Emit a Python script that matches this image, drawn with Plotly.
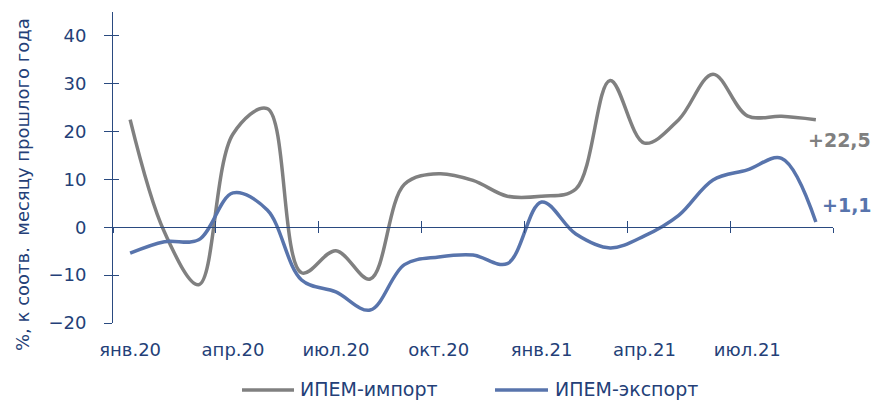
import plotly.graph_objects as go

months = ["янв.20", "фев.20", "мар.20", "апр.20", "май.20", "июн.20", "июл.20",
          "авг.20", "сен.20", "окт.20", "ноя.20", "дек.20", "янв.21", "фев.21",
          "мар.21", "апр.21", "май.21", "июн.21", "июл.21", "авг.21", "сен.21"]
imp = [22.5, -1.0, -12.0, 19.5, 24.8, -9.5, -4.9, -10.8, 9.0, 11.2, 9.8,
       6.5, 6.5, 8.0, 30.7, 17.6, 22.5, 32.0, 23.3, 23.2, 22.5]
exp = [-5.4, -3.0, -2.6, 7.2, 3.6, -11.0, -13.5, -17.3, -7.8, -6.2, -5.8,
       -7.6, 5.3, -1.4, -4.3, -1.8, 2.5, 9.9, 12.0, 14.4, 1.1]
y_ticks = [-20, -10, 0, 10, 20, 30, 40]
label_every = 3
series_names = ["ИПЕМ-импорт", "ИПЕМ-экспорт"]

GRAY = "#808080"
BLUE = "#5874AC"
TXT = "#243F78"
AX = "#2A4A80"
FONT = "DejaVu Sans"

W, H = 873, 400
ML, MR, MT, MB = 113, 40, 12, 77
PW, PH = W - ML - MR, H - MT - MB

def px(x):  # page x -> paper
    return (x - ML) / PW

def py(y):  # page y -> paper
    return (H - MB - y) / PH

xi = list(range(len(months)))
n = len(months)
ymin, ymax = -20, 45

fig = go.Figure()
fig.add_trace(go.Scatter(x=xi, y=imp, mode="lines", name=series_names[0],
                         line=dict(color=GRAY, width=3.5, shape="spline", smoothing=1.0),
                         showlegend=False))
fig.add_trace(go.Scatter(x=xi, y=exp, mode="lines", name=series_names[1],
                         line=dict(color=BLUE, width=3.5, shape="spline", smoothing=1.0),
                         showlegend=False))
# empty helper traces so overlay axes get drawn
fig.add_trace(go.Scatter(x=[], y=[], xaxis="x2", yaxis="y", showlegend=False, hoverinfo="skip"))
fig.add_trace(go.Scatter(x=[], y=[], xaxis="x3", yaxis="y", showlegend=False, hoverinfo="skip"))
fig.add_trace(go.Scatter(x=[], y=[], xaxis="x", yaxis="y2", showlegend=False, hoverinfo="skip"))

bounds = [i - 0.5 for i in range(0, n + 1, label_every)]
label_idx = list(range(0, n, label_every))
zero_pos = (0 - ymin) / (ymax - ymin)

common_x = dict(range=[-0.5, n - 0.5], showgrid=False, zeroline=False, fixedrange=True)

fig.update_layout(
    width=W, height=H,
    margin=dict(l=ML, r=MR, t=MT, b=MB),
    paper_bgcolor="white", plot_bgcolor="white",
    font=dict(family=FONT, size=18, color=TXT),
    showlegend=False,
    xaxis=dict(**common_x, tickmode="array", tickvals=label_idx,
               ticktext=[months[i] for i in label_idx], ticks="", showline=False,
               tickfont=dict(family=FONT, size=18, color=TXT), ticklabelstandoff=14),
    xaxis2=dict(**common_x, overlaying="x", anchor="free", position=zero_pos,
                tickmode="array", tickvals=bounds, showticklabels=False,
                ticks="outside", ticklen=5, tickwidth=1, tickcolor=AX,
                showline=True, linecolor=AX, linewidth=1),
    xaxis3=dict(**common_x, overlaying="x", anchor="free", position=zero_pos,
                tickmode="array", tickvals=bounds, showticklabels=False,
                ticks="inside", ticklen=6, tickwidth=1, tickcolor=AX, showline=False),
    yaxis=dict(range=[ymin, ymax], tickmode="array", tickvals=y_ticks,
               showgrid=False, zeroline=False, showline=True, linecolor=AX, linewidth=1,
               ticks="outside", ticklen=8, tickwidth=1, tickcolor=AX,
               tickfont=dict(family=FONT, size=18, color=TXT), ticklabelstandoff=14,
               fixedrange=True),
    yaxis2=dict(range=[ymin, ymax], overlaying="y", anchor="x", side="left",
                tickmode="array", tickvals=y_ticks, showticklabels=False,
                showgrid=False, zeroline=False, showline=False,
                ticks="inside", ticklen=6, tickwidth=1, tickcolor=AX, fixedrange=True),
)

def fmt(v):
    return ("+" if v >= 0 else "") + f"{v:.1f}".replace(".", ",")

annotations = [
    dict(text="%, к соотв.  месяцу прошлого года", textangle=-90, xref="paper", yref="paper",
         x=px(22), y=py(185), xanchor="center", yanchor="middle", showarrow=False,
         font=dict(family=FONT, size=18, color=TXT)),
    dict(text="<b>" + fmt(imp[-1]) + "</b>", xref="paper", yref="paper",
         x=px(806), y=py(140), xanchor="left", yanchor="middle", showarrow=False,
         font=dict(family=FONT, size=19, color=GRAY)),
    dict(text="<b>" + fmt(exp[-1]) + "</b>", xref="paper", yref="paper",
         x=px(820), y=py(205), xanchor="left", yanchor="middle", showarrow=False,
         font=dict(family=FONT, size=19, color=BLUE)),
    dict(text=series_names[0], xref="paper", yref="paper", x=px(298), y=py(389),
         xanchor="left", yanchor="middle", showarrow=False,
         font=dict(family=FONT, size=19, color=TXT)),
    dict(text=series_names[1], xref="paper", yref="paper", x=px(553), y=py(389),
         xanchor="left", yanchor="middle", showarrow=False,
         font=dict(family=FONT, size=19, color=TXT)),
]
fig.update_layout(annotations=annotations)

shapes = [
    dict(type="line", xref="paper", yref="paper", x0=px(242), x1=px(294), y0=py(390), y1=py(390),
         line=dict(color=GRAY, width=3.5)),
    dict(type="line", xref="paper", yref="paper", x0=px(495), x1=px(548), y0=py(390), y1=py(390),
         line=dict(color=BLUE, width=3.5)),
]
fig.update_layout(shapes=shapes)

fig.write_html("out.html",
               config={"displayModeBar": False, "staticPlot": True},
               post_script="document.body.style.margin='0';document.body.style.overflow='hidden';")
